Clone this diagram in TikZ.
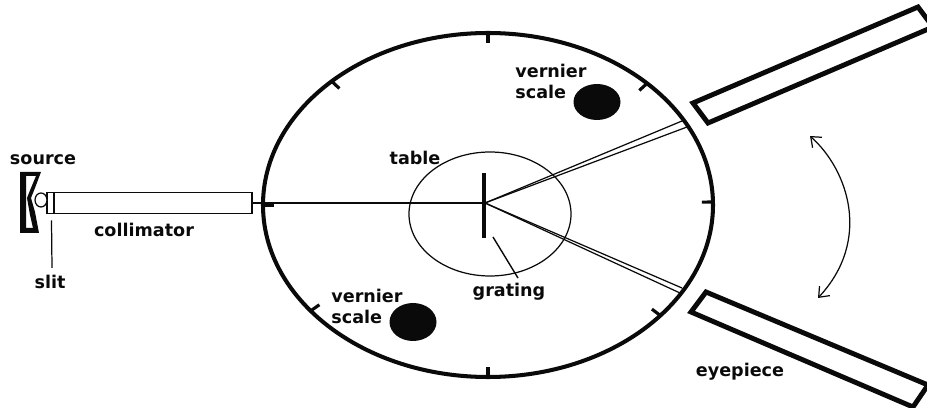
\documentclass[tikz,border=0pt]{standalone}
\usepackage{fontspec}
\setmainfont{DejaVu Sans}
\usetikzlibrary{arrows.meta,calc}
\definecolor{ink}{HTML}{0A0A0A}
\tikzset{
  lab/.style={font=\fontsize{10}{12}\selectfont\bfseries,text=ink,inner sep=0pt,align=left},
  tube/.style={draw=ink,line width=2.8pt,line join=miter,fill=white},
  thin line/.style={draw=ink,line width=0.7pt},
  beam/.style={draw=ink,line width=0.7pt},
}
\begin{document}
\begin{tikzpicture}[x=0.02cm,y=-0.02cm,>=Latex]
      \useasboundingbox (0,0) rectangle (927,408);
      \clip (0,0) rectangle (927,408);
      \coordinate (hub) at (485,203);
      % main circle and its ticks
      \draw[ink,line width=2.3pt] (488,205) ellipse [x radius=225,y radius=172];
      \foreach \a in {359,40,90,142,180,226,270,315}
        \draw[ink,line width=1.8pt] ($(488,205)+(\a:225 and 172)$) -- ($(488,205)+(\a:214 and 162)$);
      \draw[thin line] (490,214) ellipse [x radius=81,y radius=62];
      % light paths
      \coordinate (upA) at (682,121);
      \coordinate (upB) at (687,127);
      \coordinate (lowA) at (682,288);
      \coordinate (lowB) at (680,293);
      \foreach \endpt in {upA,upB,lowA,lowB}
        \draw[beam] (hub) -- (\endpt);
      \node[draw=ink,line width=0.9pt,fill=white,minimum width=3.96cm,minimum height=0.42cm,inner sep=0pt] (collimator) at (153,203) {};
      \draw[ink,line width=1.5pt] (collimator.east) -- (hub);
      \node[draw=ink,line width=0.9pt,fill=white,minimum width=0.14cm,minimum height=0.42cm,inner sep=0pt] (slitbox) at (50.5,203) {};
      % source
      \fill[ink,even odd rule] (20,172) -- (41,172) -- (35,188) -- (31,198) -- (35,212) -- (39,233) -- (20,233) -- cycle
        (26,176) -- (36,176) -- (31,188) -- (27,198) -- (30,215) -- (33,228) -- (26,228) -- cycle;
      \draw[ink,line width=0.7pt,fill=white] (41,200) ellipse [x radius=6,y radius=7];
      \draw[ink,line width=2.4pt] (484,173) -- (484,238);
      \node[lab] (sourcelab) at (43,160) {source};
      \node[lab] (collimatorlab) at (144,230) {collimator};
      \node[lab] (slitlab) at (50,282) {slit};
      \node[lab] (tablelab) at (415,158) {table};
      \node[lab] (gratinglab) at (509,292) {grating};
      \node[lab] (eyepiecelab) at (740,372) {eyepiece};
      \node[lab] (vernierA) at (551,81) {vernier\\scale};
      \node[lab] (vernierB) at (367,306) {vernier\\scale};
      \fill[ink] (597,102) ellipse [x radius=23.5,y radius=18];
      \fill[ink] (413,322) ellipse [x radius=23.5,y radius=19];
      \draw[thin line] ($(slitlab.north)+(2,-7)$) -- ($(slitbox.south)+(1,6)$);
      \draw[ink,line width=0.8pt] ($(gratinglab.north)+(9,-5)$) -- (493,237);
      % telescope arms
      \draw[tube] (693,103) -- (918,7) -- (933,27) -- (708,123) -- cycle;
      \draw[tube] (691,312) -- (706,292) -- (928,385) -- (913,407) -- cycle;
      \draw[thin line,{Straight Barb[length=5pt,width=8pt]}-{Straight Barb[length=5pt,width=8pt]}] (810,136) .. controls (848,170) and (872,240) .. (818,298);
    \end{tikzpicture}
\end{document}
